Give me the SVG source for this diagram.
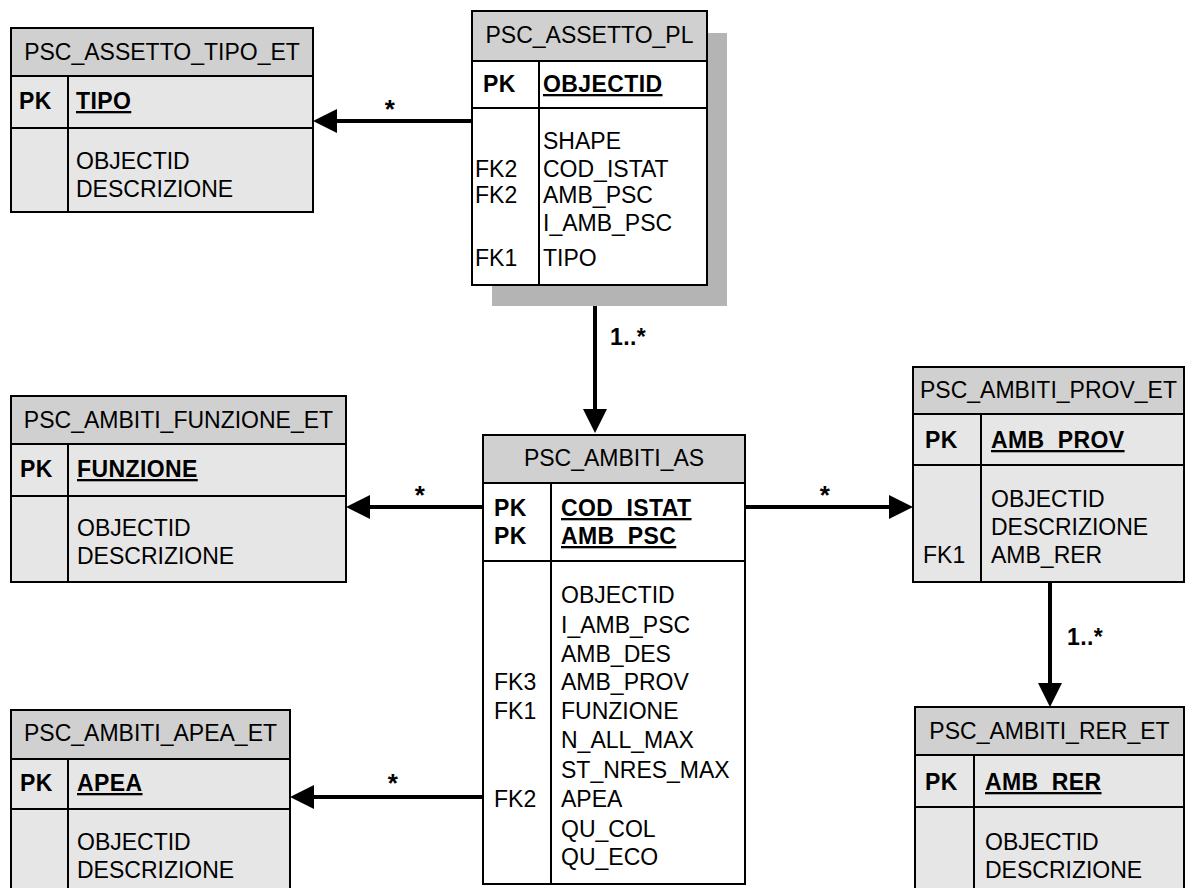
<svg xmlns="http://www.w3.org/2000/svg" width="1187" height="888" viewBox="0 0 1187 888">
<defs>
<style>
.box{stroke:#000;stroke-width:2}
.hd{fill:#d0d0d0}
.bd{fill:#e6e6e6}
.wh{fill:#fff}
.ln{stroke:#000;stroke-width:2;fill:none}
.t{font-family:"Liberation Sans",Arial,sans-serif;font-size:23px;fill:#000}
.c{text-anchor:middle}
.b{font-weight:bold;letter-spacing:0.4px}
.u{text-decoration:underline}
.s{font-size:26px}
.con{stroke:#000;stroke-width:4;fill:none;marker-end:url(#arr)}
</style>
<marker id="arr" markerUnits="userSpaceOnUse" markerWidth="26" markerHeight="26" refX="4" refY="12" orient="auto" viewBox="0 0 26 26">
<path d="M0,0 L24,12 L0,24 Z" fill="#000"/>
</marker>
</defs>

<g id="connectors">
<path class="con" d="M472,121 H333"/>
<path class="con" d="M595,285 V413"/>
<path class="con" d="M483,507 H366"/>
<path class="con" d="M745,507 H893"/>
<path class="con" d="M1050,582 V687"/>
<path class="con" d="M483,797 H310"/>
<text class="t b c s" x="390" y="118">*</text>
<text class="t b" x="610" y="345">1..*</text>
<text class="t b c s" x="420" y="504">*</text>
<text class="t b c s" x="825" y="504">*</text>
<text class="t b" x="1067" y="645">1..*</text>
<text class="t b c s" x="393" y="792">*</text>
</g>

<g id="PSC_ASSETTO_TIPO_ET">
<rect class="box bd" x="11" y="28" width="302" height="184"/>
<rect class="box hd" x="11" y="28" width="302" height="48"/>
<path class="ln" d="M11,128 H313 M68,76 V212"/>
<text class="t c" x="162" y="60">PSC_ASSETTO_TIPO_ET</text>
<text class="t b" x="19" y="109">PK</text>
<text class="t b u" x="76" y="109">TIPO</text>
<text class="t" x="76" y="169">OBJECTID</text>
<text class="t" x="76" y="197">DESCRIZIONE</text>
</g>

<g id="PSC_ASSETTO_PL">
<rect x="492" y="33" width="235" height="273" fill="#b4b4b4"/>
<rect class="box wh" x="472" y="11" width="235" height="274"/>
<rect class="box hd" x="472" y="11" width="235" height="50"/>
<path class="ln" d="M472,108 H707 M539,61 V285"/>
<text class="t c" x="589.5" y="43">PSC_ASSETTO_PL</text>
<text class="t b" x="483" y="92">PK</text>
<text class="t b u" x="543" y="92">OBJECTID</text>
<text class="t" x="543" y="149">SHAPE</text>
<text class="t" x="475" y="177">FK2</text>
<text class="t" x="543" y="177">COD_ISTAT</text>
<text class="t" x="475" y="203">FK2</text>
<text class="t" x="543" y="203">AMB_PSC</text>
<text class="t" x="543" y="231">I_AMB_PSC</text>
<text class="t" x="475" y="266">FK1</text>
<text class="t" x="543" y="266">TIPO</text>
</g>

<g id="PSC_AMBITI_FUNZIONE_ET">
<rect class="box bd" x="11" y="396" width="335" height="186"/>
<rect class="box hd" x="11" y="396" width="335" height="48"/>
<path class="ln" d="M11,496 H346 M68,444 V582"/>
<text class="t c" x="178.5" y="428">PSC_AMBITI_FUNZIONE_ET</text>
<text class="t b" x="20" y="477">PK</text>
<text class="t b u" x="77" y="477">FUNZIONE</text>
<text class="t" x="77" y="536">OBJECTID</text>
<text class="t" x="77" y="564">DESCRIZIONE</text>
</g>

<g id="PSC_AMBITI_AS">
<rect class="box wh" x="483" y="435" width="262" height="449"/>
<rect class="box hd" x="483" y="435" width="262" height="48"/>
<path class="ln" d="M483,561 H745 M551,483 V884"/>
<text class="t c" x="614" y="466">PSC_AMBITI_AS</text>
<text class="t b" x="494" y="516">PK</text>
<text class="t b u" x="561" y="516">COD_ISTAT</text>
<text class="t b" x="494" y="544">PK</text>
<text class="t b u" x="561" y="544">AMB_PSC</text>
<text class="t" x="561" y="603">OBJECTID</text>
<text class="t" x="561" y="633">I_AMB_PSC</text>
<text class="t" x="561" y="662">AMB_DES</text>
<text class="t" x="494" y="690">FK3</text>
<text class="t" x="561" y="690">AMB_PROV</text>
<text class="t" x="494" y="719">FK1</text>
<text class="t" x="561" y="719">FUNZIONE</text>
<text class="t" x="561" y="748">N_ALL_MAX</text>
<text class="t" x="561" y="778">ST_NRES_MAX</text>
<text class="t" x="494" y="807">FK2</text>
<text class="t" x="561" y="807">APEA</text>
<text class="t" x="561" y="837">QU_COL</text>
<text class="t" x="561" y="865">QU_ECO</text>
</g>

<g id="PSC_AMBITI_PROV_ET">
<rect class="box bd" x="913" y="367" width="271" height="215"/>
<rect class="box hd" x="913" y="367" width="271" height="47"/>
<path class="ln" d="M913,465 H1184 M981,414 V582"/>
<text class="t c" x="1048.5" y="398">PSC_AMBITI_PROV_ET</text>
<text class="t b" x="925" y="448">PK</text>
<text class="t b u" x="991" y="448">AMB_PROV</text>
<text class="t" x="991" y="507">OBJECTID</text>
<text class="t" x="991" y="535">DESCRIZIONE</text>
<text class="t" x="923" y="563">FK1</text>
<text class="t" x="991" y="563">AMB_RER</text>
</g>

<g id="PSC_AMBITI_RER_ET">
<rect class="box bd" x="915" y="707" width="269" height="200"/>
<rect class="box hd" x="915" y="707" width="269" height="48"/>
<path class="ln" d="M915,807 H1184 M974,755 V900"/>
<text class="t c" x="1049.5" y="739">PSC_AMBITI_RER_ET</text>
<text class="t b" x="925" y="790">PK</text>
<text class="t b u" x="985" y="790">AMB_RER</text>
<text class="t" x="985" y="850">OBJECTID</text>
<text class="t" x="985" y="878">DESCRIZIONE</text>
</g>

<g id="PSC_AMBITI_APEA_ET">
<rect class="box bd" x="11" y="710" width="279" height="200"/>
<rect class="box hd" x="11" y="710" width="279" height="49"/>
<path class="ln" d="M11,809 H290 M68,759 V900"/>
<text class="t c" x="150.5" y="741">PSC_AMBITI_APEA_ET</text>
<text class="t b" x="20" y="791">PK</text>
<text class="t b u" x="77" y="791">APEA</text>
<text class="t" x="77" y="850">OBJECTID</text>
<text class="t" x="77" y="878">DESCRIZIONE</text>
</g>
</svg>
